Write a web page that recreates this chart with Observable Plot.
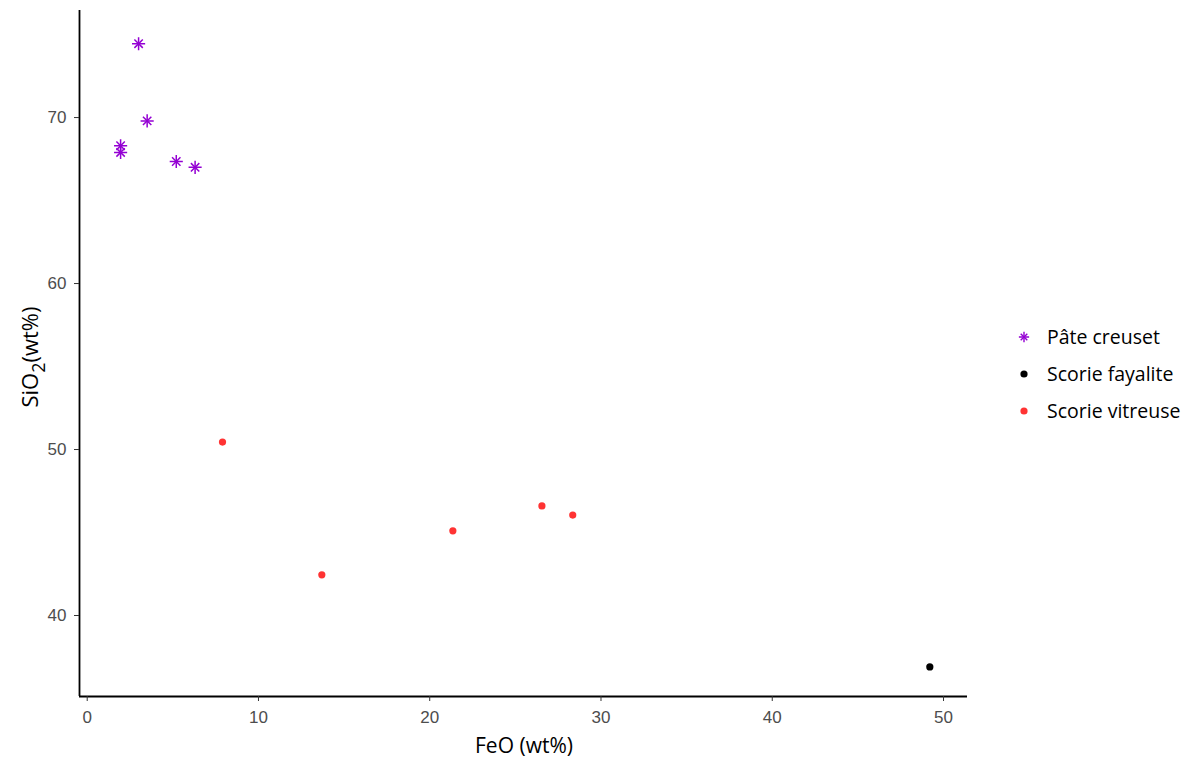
<!DOCTYPE html>
<html>
<head>
<meta charset="utf-8">
<script src="https://cdn.jsdelivr.net/npm/d3@7"></script>
<script src="https://cdn.jsdelivr.net/npm/@observablehq/plot@0.6"></script>
<style>
  html, body { margin: 0; padding: 0; background: #fff; }
  #wrap { position: relative; width: 1199px; height: 766px; font-family: "Open Sans", "Noto Sans", sans-serif; }
  #ylab { position: absolute; left: 29px; top: 357px; transform: translate(-50%, -50%) rotate(-90deg); font-size: 22px; color: #000; white-space: nowrap; }
  #ylab sub { font-size: 18px; vertical-align: -7px; line-height: 0; }
  #xlab { position: absolute; left: 524px; top: 745px; transform: translate(-50%, -50%); font-size: 21px; color: #000; white-space: nowrap; }
  #legend { position: absolute; left: 1013px; top: 318px; font-size: 19.5px; color: #000; }
  .item { display: flex; align-items: center; height: 37px; }
  .item svg { width: 22px; height: 22px; margin-right: 12px; }
</style>
</head>
<body>
<div id="wrap">
  <div id="chart"></div>
  <div id="ylab">SiO<sub>2</sub>(wt%)</div>
  <div id="xlab">FeO (wt%)</div>
  <div id="legend"></div>
</div>
<script>
const groups = ["Pâte creuset", "Scorie fayalite", "Scorie vitreuse"];
const colors = ["#9400D3", "#000000", "#FF3333"];

const pateFeO  = [3.0, 3.5, 1.95, 1.95, 5.2, 6.3];
const pateSiO2 = [74.45, 69.8, 68.3, 67.9, 67.35, 67.0];

const fayaliteFeO  = [49.2];
const fayaliteSiO2 = [36.9];

const vitreuseFeO  = [7.9, 13.7, 21.35, 26.55, 28.35];
const vitreuseSiO2 = [50.45, 42.45, 45.1, 46.6, 46.05];

const xTicks = [0, 10, 20, 30, 40, 50];
const yTicks = [40, 50, 60, 70];
const xDomain = [-0.45, 51.4];
const yDomain = [35.12, 76.45];

const pate = pateFeO.map((x, i) => ({FeO: x, SiO2: pateSiO2[i], group: groups[0]}));
const fay = fayaliteFeO.map((x, i) => ({FeO: x, SiO2: fayaliteSiO2[i], group: groups[1]}));
const vit = vitreuseFeO.map((x, i) => ({FeO: x, SiO2: vitreuseSiO2[i], group: groups[2]}));

const chart = Plot.plot({
  width: 1199,
  height: 766,
  marginLeft: 79,
  marginRight: 232,
  marginTop: 10,
  marginBottom: 70,
  style: {fontFamily: "'Liberation Sans', Arial, sans-serif", fontSize: "17px", background: "#fff"},
  x: {domain: xDomain, ticks: xTicks, label: null},
  y: {domain: yDomain, ticks: yTicks, label: null},
  color: {domain: groups, range: colors},
  marks: [
    Plot.ruleX([xDomain[0]], {stroke: "#000", strokeWidth: 1.8}),
    Plot.ruleY([yDomain[0]], {stroke: "#000", strokeWidth: 1.8}),
    Plot.axisX({ticks: xTicks, tickSize: 5, tickPadding: 9, stroke: "#333", fill: "#4d4d4d", fontSize: 17, label: null}),
    Plot.axisY({ticks: yTicks, tickSize: 5, tickPadding: 8, stroke: "#333", fill: "#4d4d4d", fontSize: 17, label: null}),
    Plot.dot(vit, {x: "FeO", y: "SiO2", fill: "group", r: 3.6}),
    Plot.dot(fay, {x: "FeO", y: "SiO2", fill: "group", r: 3.6}),
    Plot.dot(pate, {x: "FeO", y: "SiO2", stroke: "group", symbol: "plus", r: 4.3, strokeWidth: 1.5}),
    Plot.dot(pate, {x: "FeO", y: "SiO2", stroke: "group", symbol: "times", r: 3.9, strokeWidth: 1.5})
  ]
});
document.getElementById("chart").appendChild(chart);

// legend
const leg = d3.select("#legend");
groups.forEach((g, i) => {
  const item = leg.append("div").attr("class", "item");
  const svg = item.append("svg").attr("viewBox", "-11 -11 22 22");
  if (i === 0) {
    svg.append("path").attr("d", d3.symbol(d3.symbolPlus, Math.PI * 3.4 * 3.4)()).attr("stroke", colors[i]).attr("stroke-width", 1.4).attr("fill", "none");
    svg.append("path").attr("d", d3.symbol(d3.symbolTimes, Math.PI * 3.1 * 3.1)()).attr("stroke", colors[i]).attr("stroke-width", 1.4).attr("fill", "none");
  } else {
    svg.append("circle").attr("r", 3.6).attr("fill", colors[i]);
  }
  item.append("span").text(g);
});
</script>
</body>
</html>
